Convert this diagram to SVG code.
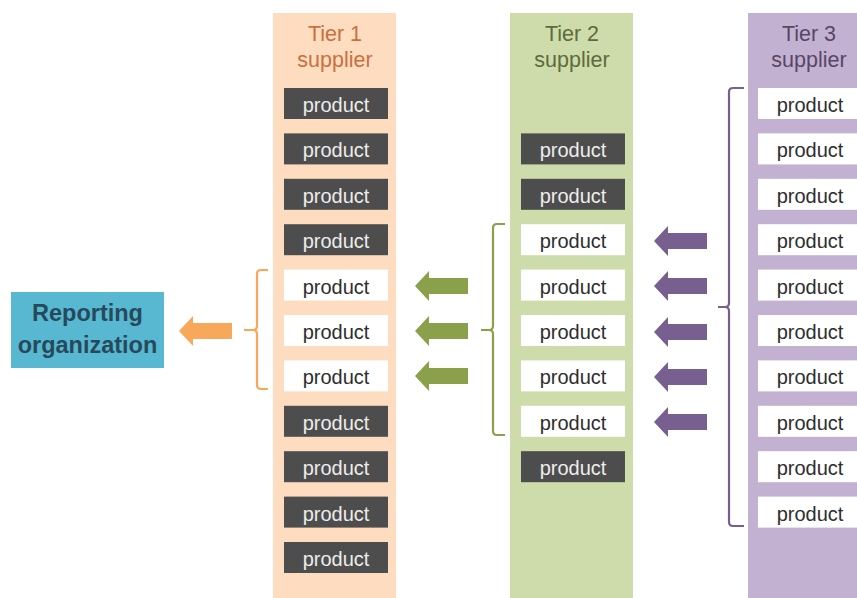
<svg xmlns="http://www.w3.org/2000/svg" width="857" height="598" viewBox="0 0 857 598">
<style>
text{font-family:"Liberation Sans",Arial,sans-serif;text-anchor:middle}
.p{font-size:20px}
.dk rect{fill:#4d4d4d}
.dk text{fill:#ececec}
.wt rect{fill:#ffffff}
.wt text{fill:#2e2e2e}
.hd{font-size:21.5px}
.br{fill:none;stroke-width:2.2;stroke-linejoin:round}
</style>
<defs>
<path id="arr" d="M0,0 L14,-15 L14,-8 L53,-8 L53,8 L14,8 L14,15 Z"/>
</defs>
<rect x="273" y="13" width="123" height="585" fill="#fddcbf"/>
<rect x="510" y="13" width="123" height="585" fill="#cedcab"/>
<rect x="748" y="13" width="123" height="585" fill="#c3b1d2"/>
<text class="hd" x="335" y="41" fill="#c9703f">Tier 1</text>
<text class="hd" x="335" y="67" fill="#c9703f">supplier</text>
<text class="hd" x="572" y="41" fill="#5d6b3c">Tier 2</text>
<text class="hd" x="572" y="67" fill="#5d6b3c">supplier</text>
<text class="hd" x="809" y="41" fill="#574766">Tier 3</text>
<text class="hd" x="809" y="67" fill="#574766">supplier</text>
<g id="reporting">
<rect x="11" y="292" width="153" height="76" fill="#59b8d1"/>
<text x="87.5" y="321" font-size="23.5px" font-weight="bold" fill="#264a5c">Reporting</text>
<text x="87.5" y="353" font-size="23.5px" font-weight="bold" fill="#264a5c">organization</text>
</g>
<g id="t1">
<g class="dk"><rect x="284" y="88" width="104" height="31"/><text class="p" x="336" y="112">product</text></g>
<g class="dk"><rect x="284" y="133.4" width="104" height="31"/><text class="p" x="336" y="157.4">product</text></g>
<g class="dk"><rect x="284" y="178.8" width="104" height="31"/><text class="p" x="336" y="202.8">product</text></g>
<g class="dk"><rect x="284" y="224.2" width="104" height="31"/><text class="p" x="336" y="248.2">product</text></g>
<g class="wt"><rect x="284" y="269.6" width="104" height="31"/><text class="p" x="336" y="293.6">product</text></g>
<g class="wt"><rect x="284" y="315" width="104" height="31"/><text class="p" x="336" y="339">product</text></g>
<g class="wt"><rect x="284" y="360.4" width="104" height="31"/><text class="p" x="336" y="384.4">product</text></g>
<g class="dk"><rect x="284" y="405.8" width="104" height="31"/><text class="p" x="336" y="429.8">product</text></g>
<g class="dk"><rect x="284" y="451.2" width="104" height="31"/><text class="p" x="336" y="475.2">product</text></g>
<g class="dk"><rect x="284" y="496.6" width="104" height="31"/><text class="p" x="336" y="520.6">product</text></g>
<g class="dk"><rect x="284" y="542" width="104" height="31"/><text class="p" x="336" y="566">product</text></g>
</g>
<g id="t2">
<g class="dk"><rect x="521" y="133.4" width="104" height="31"/><text class="p" x="573" y="157.4">product</text></g>
<g class="dk"><rect x="521" y="178.8" width="104" height="31"/><text class="p" x="573" y="202.8">product</text></g>
<g class="wt"><rect x="521" y="224.2" width="104" height="31"/><text class="p" x="573" y="248.2">product</text></g>
<g class="wt"><rect x="521" y="269.6" width="104" height="31"/><text class="p" x="573" y="293.6">product</text></g>
<g class="wt"><rect x="521" y="315" width="104" height="31"/><text class="p" x="573" y="339">product</text></g>
<g class="wt"><rect x="521" y="360.4" width="104" height="31"/><text class="p" x="573" y="384.4">product</text></g>
<g class="wt"><rect x="521" y="405.8" width="104" height="31"/><text class="p" x="573" y="429.8">product</text></g>
<g class="dk"><rect x="521" y="451.2" width="104" height="31"/><text class="p" x="573" y="475.2">product</text></g>
</g>
<g id="t3">
<g class="wt"><rect x="758" y="88" width="104" height="31"/><text class="p" x="810" y="112">product</text></g>
<g class="wt"><rect x="758" y="133.4" width="104" height="31"/><text class="p" x="810" y="157.4">product</text></g>
<g class="wt"><rect x="758" y="178.8" width="104" height="31"/><text class="p" x="810" y="202.8">product</text></g>
<g class="wt"><rect x="758" y="224.2" width="104" height="31"/><text class="p" x="810" y="248.2">product</text></g>
<g class="wt"><rect x="758" y="269.6" width="104" height="31"/><text class="p" x="810" y="293.6">product</text></g>
<g class="wt"><rect x="758" y="315" width="104" height="31"/><text class="p" x="810" y="339">product</text></g>
<g class="wt"><rect x="758" y="360.4" width="104" height="31"/><text class="p" x="810" y="384.4">product</text></g>
<g class="wt"><rect x="758" y="405.8" width="104" height="31"/><text class="p" x="810" y="429.8">product</text></g>
<g class="wt"><rect x="758" y="451.2" width="104" height="31"/><text class="p" x="810" y="475.2">product</text></g>
<g class="wt"><rect x="758" y="496.6" width="104" height="31"/><text class="p" x="810" y="520.6">product</text></g>
</g>
<g id="connectors">
<path class="br" stroke="#f8a85a" d="M268,270 L261,270 Q257,270 257,274 L257,326 Q257,330 253,330 L244,330 M253,330 Q257,330 257,334 L257,385 Q257,389 261,389 L268,389"/>
<path class="br" stroke="#8aa04a" d="M505,224 L497,224 Q493,224 493,228 L493,326 Q493,330 489,330 L481,330 M489,330 Q493,330 493,334 L493,431 Q493,435 497,435 L505,435"/>
<path class="br" stroke="#776090" d="M744,88 L733,88 Q729,88 729,92 L729,303 Q729,307 725,307 L718,307 M725,307 Q729,307 729,311 L729,522 Q729,526 733,526 L744,526"/>
<use href="#arr" x="179" y="331" fill="#f8a85a"/>
<use href="#arr" x="415" y="286" fill="#8aa04a"/>
<use href="#arr" x="415" y="331" fill="#8aa04a"/>
<use href="#arr" x="415" y="376" fill="#8aa04a"/>
<use href="#arr" x="654" y="241" fill="#776090"/>
<use href="#arr" x="654" y="286" fill="#776090"/>
<use href="#arr" x="654" y="332" fill="#776090"/>
<use href="#arr" x="654" y="377" fill="#776090"/>
<use href="#arr" x="654" y="422" fill="#776090"/>
</g>
</svg>
